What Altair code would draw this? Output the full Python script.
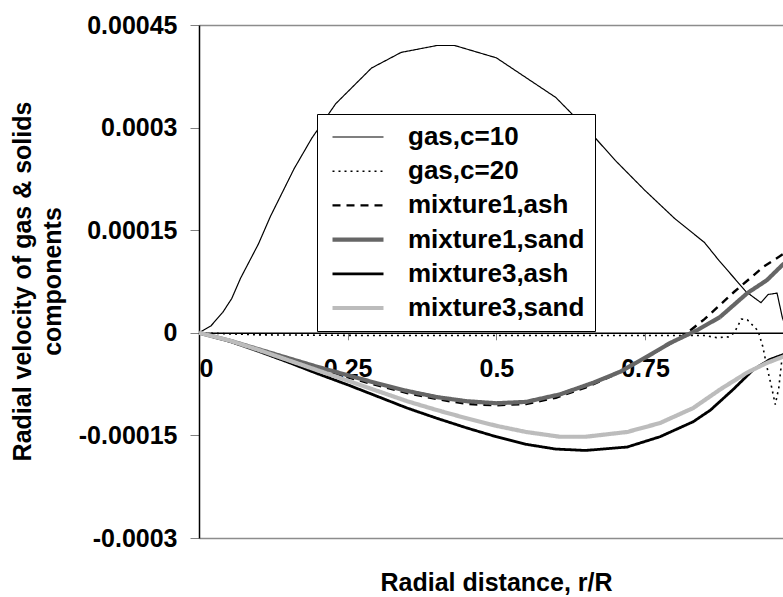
import json
import altair as alt
import pandas as pd

# ---- data ----
series_names = ["gas,c=10", "gas,c=20", "mixture1,ash", "mixture1,sand", "mixture3,ash", "mixture3,sand"]

gas_c10_r = [0, 0.02, 0.04, 0.055, 0.07, 0.085, 0.1, 0.12, 0.14, 0.16, 0.19, 0.23, 0.29, 0.34, 0.4, 0.43,
             0.5, 0.55, 0.6, 0.66, 0.7, 0.75, 0.8, 0.85, 0.875, 0.9, 0.92, 0.945, 0.957, 0.972, 0.981, 0.99]
gas_c10_v = [0, 0.00001, 0.00003, 0.00005, 0.00008, 0.000105, 0.00013, 0.00017, 0.000205, 0.00024, 0.000285,
             0.000335, 0.000387, 0.00041, 0.00042, 0.00042, 0.000402, 0.000373, 0.000344, 0.000291, 0.000252,
             0.000208, 0.000167, 0.000132, 0.000105, 0.00008, 0.00006, 0.000044, 0.000056, 0.000058, 0.000022, 0.0]

gas_c20_r = [0, 0.1, 0.3, 0.5, 0.7, 0.85, 0.87, 0.89, 0.9, 0.912, 0.922, 0.94, 0.948, 0.955, 0.963, 0.969,
             0.975, 0.98, 0.99]
gas_c20_v = [0, -0.000003, -0.000004, -0.000004, -0.000004, -0.000004, -0.000007, -0.000006, 0.0, 0.00002,
             0.000019, 0.000003, -0.00002, -0.00005, -0.00008, -0.000105, -0.00008, -0.00004, -0.00001]

mix1_ash_r = [0, 0.05, 0.1, 0.15, 0.2, 0.25, 0.3, 0.35, 0.4, 0.45, 0.5, 0.55, 0.6, 0.65, 0.7, 0.75, 0.8,
              0.821, 0.85, 0.9, 0.95, 1.0]
mix1_ash_v = [0, -0.000011, -0.000025, -0.000039, -0.000052, -0.000065, -0.000077, -0.000088, -0.000097,
              -0.000104, -0.000106, -0.000104, -0.000095, -0.00008, -0.000061, -0.000037, -0.000012, 0.0,
              0.00002, 0.00006, 0.000097, 0.000125]

mix1_sand_r = [0, 0.05, 0.1, 0.15, 0.2, 0.25, 0.3, 0.35, 0.4, 0.45, 0.5, 0.55, 0.607, 0.663, 0.708, 0.759,
               0.792, 0.838, 0.876, 0.922, 0.955, 0.982, 1.0]
mix1_sand_v = [0, -0.000011, -0.000024, -0.000037, -0.00005, -0.000062, -0.000074, -0.000085, -0.000094,
               -0.0001, -0.000103, -0.000101, -0.00009, -0.000073, -0.000057, -0.000032, -0.000015, 0.000004,
               0.000023, 0.000058, 0.000077, 0.0001, 0.00011]

mix3_ash_r = [0, 0.05, 0.1, 0.15, 0.2, 0.25, 0.3, 0.35, 0.4, 0.45, 0.5, 0.55, 0.6, 0.65, 0.72, 0.775, 0.831,
              0.86, 0.898, 0.932, 0.96, 0.982, 1.0]
mix3_ash_v = [0, -0.000012, -0.000027, -0.000043, -0.00006, -0.000076, -0.000093, -0.00011, -0.000125,
              -0.000139, -0.000152, -0.000163, -0.00017, -0.000172, -0.000167, -0.000152, -0.00013, -0.000113,
              -0.000083, -0.000054, -0.000039, -0.000032, -0.000028]

mix3_sand_r = [0, 0.05, 0.1, 0.15, 0.2, 0.25, 0.3, 0.35, 0.4, 0.45, 0.5, 0.55, 0.607, 0.65, 0.72, 0.775,
               0.831, 0.876, 0.922, 0.955, 0.982, 1.0]
mix3_sand_v = [0, -0.000011, -0.000025, -0.00004, -0.000055, -0.00007, -0.000085, -0.0001, -0.000113,
               -0.000125, -0.000136, -0.000145, -0.000152, -0.000152, -0.000145, -0.000132, -0.00011,
               -0.000083, -0.000058, -0.000044, -0.000035, -0.00003]

y_ticks = [-0.0003, -0.00015, 0, 0.00015, 0.0003, 0.00045]
x_ticks = [0, 0.25, 0.5, 0.75]

# ---- styles ----
series_colors = ["#000000", "#000000", "#000000", "#666666", "#000000", "#bcbcbc"]
series_dashes = [[1, 0], [2, 4], [8, 6], [1, 0], [1, 0], [1, 0]]
series_widths = [1.2, 1.6, 2.4, 4.2, 2.8, 4.2]

rows = []
for name, rs, vs in zip(series_names,
                        [gas_c10_r, gas_c20_r, mix1_ash_r, mix1_sand_r, mix3_ash_r, mix3_sand_r],
                        [gas_c10_v, gas_c20_v, mix1_ash_v, mix1_sand_v, mix3_ash_v, mix3_sand_v]):
    for i, (r, v) in enumerate(zip(rs, vs)):
        rows.append({"series": name, "r": r, "v": v, "i": i})
df = pd.DataFrame(rows)

names_js = json.dumps(series_names)
widths_js = json.dumps(series_widths)
width_expr_line = f"{widths_js}[indexof({names_js}, datum.series)]"
key = "(isObject(datum) ? datum.value : datum)"
width_expr_legend = (f"(indexof({names_js}, {key}) >= 0 ? "
                     f"{widths_js}[indexof({names_js}, {key})] : 2)")

W, H = 584, 513
FONT = "Liberation Sans"
FS = 25
LFS = 26

chart = alt.Chart(df).transform_calculate(
    w=width_expr_line
).mark_line(clip=True).encode(
    x=alt.X("r:Q",
            scale=alt.Scale(domain=[0, 0.982], nice=False, zero=False),
            axis=alt.Axis(values=x_ticks, labelExpr="'' + datum.value", offset=-0.4 * H,
                          domainColor="#000000", domainWidth=1.5, tickColor="#808080", tickSize=7,
                          labelFontSize=FS, labelFont=FONT, labelFontWeight="bold", labelColor="#000000",
                          labelPadding=17, grid=False,
                          title="Radial distance, r/R", titleFont=FONT, titleFontSize=FS,
                          titleFontWeight="bold", titleColor="#000000",
                          titleX=297, titleY=250, titleBaseline="middle", titleAlign="center")),
    y=alt.Y("v:Q",
            scale=alt.Scale(domain=[-0.0003, 0.00045], nice=False, zero=False),
            axis=alt.Axis(values=y_ticks, labelExpr="'' + datum.value",
                          domainColor="#000000", domainWidth=1.5, tickColor="#808080", tickSize=9,
                          labelFontSize=FS, labelFont=FONT, labelFontWeight="bold", labelColor="#000000",
                          labelPadding=13,
                          grid=True, gridColor="#8c8c8c", gridWidth=1.5,
                          gridOpacity={"condition": {"test": "datum.value > 0.0004 || datum.value < -0.00029",
                                                     "value": 1}, "value": 0},
                          title=["Radial velocity of gas & solids", "components"],
                          titleFont=FONT, titleFontSize=FS, titleFontWeight="bold", titleColor="#000000",
                          titleX=-189, titleY=256, titleAlign="center", titleBaseline="top",
                          titleLineHeight=30)),
    color=alt.Color("series:N", scale=alt.Scale(domain=series_names, range=series_colors),
                    legend=alt.Legend(title=None,
                                      symbolStrokeWidth=alt.ExprRef(expr=width_expr_legend))),
    strokeDash=alt.StrokeDash("series:N", scale=alt.Scale(domain=series_names, range=series_dashes),
                              legend=alt.Legend(title=None,
                                                symbolStrokeWidth=alt.ExprRef(expr=width_expr_legend))),
    strokeWidth=alt.StrokeWidth("w:Q", scale=None, legend=None),
    order="i:Q",
).properties(
    width=W, height=H,
    autosize=alt.AutoSizeParams(type="none"),
    padding={"left": 199, "top": 25, "right": 0, "bottom": 59},
).configure_view(stroke=None).configure_legend(
    orient="none", legendX=118, legendY=89,
    strokeColor="#000000", fillColor="#ffffff", padding=10,
    symbolType="M-2.55,0H2.55", symbolSize=400, symbolOffset=18,
    labelOffset=37, labelFont=FONT, labelFontSize=LFS, labelFontWeight="bold", labelColor="#000000",
    rowPadding=8.2, labelLimit=400,
)

chart.save("out.html", embed_options={"renderer": "svg", "actions": False})
